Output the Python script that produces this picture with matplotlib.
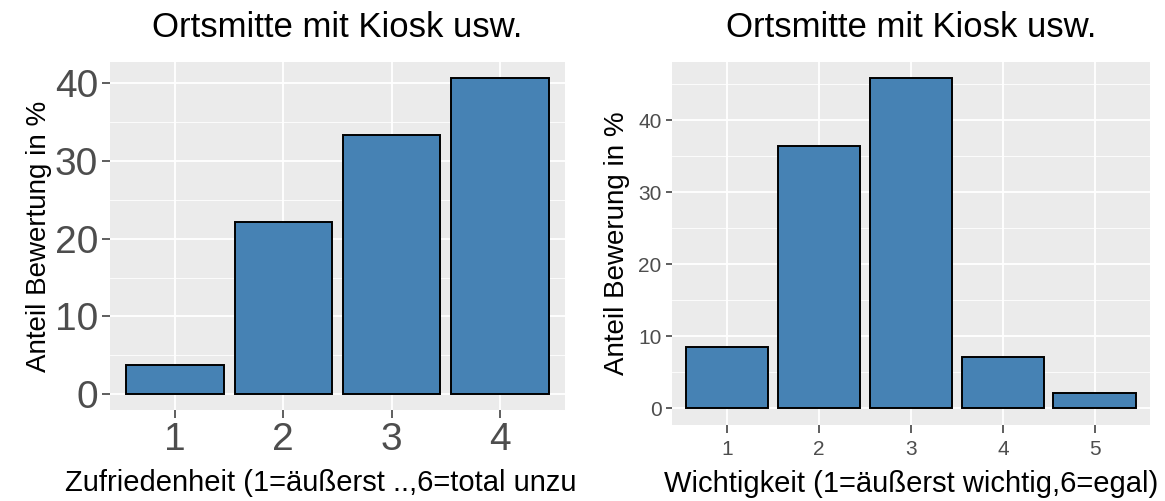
import matplotlib
matplotlib.use("Agg")
import matplotlib.pyplot as plt
import numpy as np

plt.rcParams['font.family'] = ['Liberation Sans', 'DejaVu Sans']

title = "Ortsmitte mit Kiosk usw."

# linkes Diagramm: Zufriedenheit
zuf_cats = ["1", "2", "3", "4"]
zuf_vals = [3.7, 22.2, 33.3, 40.7]

# rechtes Diagramm: Wichtigkeit
wich_cats = ["1", "2", "3", "4", "5"]
wich_vals = [8.6, 36.4, 45.8, 7.1, 2.2]

BG = "#EBEBEB"
FILL = "#4682B4"
TICKCOL = "#4D4D4D"


def gg_style(ax, cats, vals, tick_size, tick_len, pad):
    x = np.arange(1, len(cats) + 1)
    ax.set_facecolor(BG)
    ax.bar(x, vals, width=0.9, color=FILL, edgecolor="black", linewidth=1.4, zorder=3)
    ax.set_xlim(0.4, len(cats) + 0.6)
    top = max(vals)
    ax.set_ylim(-0.05 * top, 1.05 * top)
    ax.set_xticks(x)
    ax.set_xticklabels(cats)
    ax.set_yticks(np.arange(0, top + 1, 10))
    ax.set_yticks(np.arange(5, top * 1.05, 10), minor=True)
    ax.grid(True, which="major", color="white", linewidth=1.3, zorder=0)
    ax.grid(True, which="minor", axis="y", color="white", linewidth=0.6, zorder=0)
    ax.tick_params(which="major", length=tick_len, width=1.1, color="#333333",
                   labelcolor=TICKCOL, labelsize=tick_size, pad=pad)
    ax.tick_params(which="minor", length=0)
    for s in ax.spines.values():
        s.set_visible(False)
    ax.set_title(title, fontsize=25, pad=18)


fig = plt.figure(figsize=(11.65, 5.01), dpi=100)

ax1 = fig.add_axes([0.0944, 0.1816, 0.3906, 0.6946])
gg_style(ax1, zuf_cats, zuf_vals, 28, 5.5, 3)
ax1.set_ylabel("Anteil Bewertung in %", fontsize=20, labelpad=2)
fig.text(65 / 1165, 1 - 483 / 501, "Zufriedenheit (1=äußerst ..,6=total unzu",
         fontsize=21, ha="left", va="center")

ax2 = fig.add_axes([0.5768, 0.1517, 0.4103, 0.7246])
gg_style(ax2, wich_cats, wich_vals, 15, 6, 5)
ax2.tick_params(axis="y", length=4.5, pad=3)
ax2.set_ylabel("Anteil Bewerung in %", fontsize=20, labelpad=6)
ax2.set_xlabel("Wichtigkeit (1=äußerst wichtig,6=egal)", fontsize=21, labelpad=8)

fig.savefig("out.png", dpi=100)
